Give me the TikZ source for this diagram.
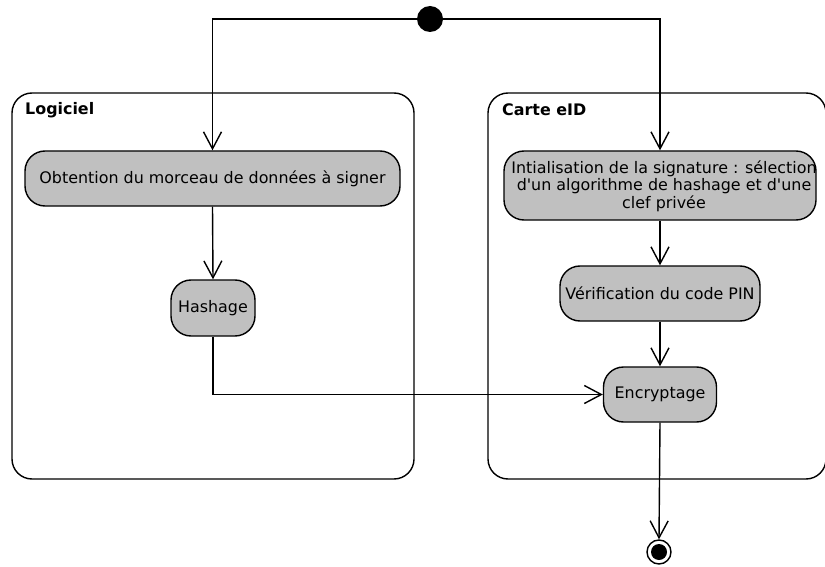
\documentclass[tikz,border=0pt]{standalone}
\usepackage{fontspec}
\setmainfont{DejaVu Sans}[Ligatures=TeXOff]
\usetikzlibrary{arrows.meta}
\definecolor{actgray}{RGB}{192,192,192}
\tikzset{
  lane/.style={draw, line width=1.4pt, rounded corners=20pt},
  act/.style={draw, fill=actgray, line width=1.4pt, rounded corners=20pt, inner sep=0pt},
  lbl/.style={inner sep=0pt, font=\fontsize{15.9}{17.5}\selectfont},
  lanelbl/.style={inner sep=0pt, anchor=west, font=\fontsize{15.9}{17.5}\selectfont\bfseries},
  arr/.style={line width=1.4pt, -{Straight Barb[length=17pt,width=18pt,line width=1.4pt]}},
}
\begin{document}
\begin{tikzpicture}[x=1pt,y=-1pt]
\useasboundingbox (0,0) rectangle (825,567);
% swimlanes
\draw[lane] (12,93) rectangle (414,479);
\draw[lane] (488,93) rectangle (826,479);
\node[lanelbl] (lanelog) at (25,110) {Logiciel};
\node[lanelbl] (lanecarte) at (502,110) {Carte eID};
% initial node
\node[circle, fill=black, minimum size=26pt, inner sep=0pt] (start) at (430,19) {};
% activities
\node[act, minimum width=375pt, minimum height=55pt] (obt) at (212.5,178.5) {};
\node[lbl] (obtT) at (obt.center) {Obtention du morceau de données à signer};
\node[act, minimum width=84pt, minimum height=56pt] (hash) at (213,308) {};
\node[lbl] (hashT) at (hash.center) {Hashage};
\node[act, minimum width=312pt, minimum height=69pt] (init) at (660,185.5) {};
\node[lbl, align=center] (initT) at (664,186) {Intialisation de la signature : sélection\\d'un algorithme de hashage et d'une\\clef privée};
\node[act, minimum width=200pt, minimum height=55pt] (ver) at (660,293.5) {};
\node[lbl] (verT) at (ver.center) {Vérification du code PIN};
\node[act, minimum width=113pt, minimum height=55pt] (enc) at (660,394.5) {};
\node[lbl] (encT) at (enc.center) {Encryptage};
% final node
\node[circle, draw, fill=white, line width=1.4pt, minimum size=24pt, inner sep=0pt] (end) at (659,552) {};
\fill (end.center) circle (8pt);
% connectors
\draw[arr] (start.west) -| (obt.north);
\draw[arr] (start.east) -| (init.north);
\draw[arr] (obt.south) -- (hash.north);
\draw[arr] (hash.south) |- (enc.west);
\draw[arr] (init.south) -- (ver.north);
\draw[arr] (ver.south) -- (enc.north);
\draw[arr] (enc.south) -- (end.north);
\end{tikzpicture}
\end{document}
